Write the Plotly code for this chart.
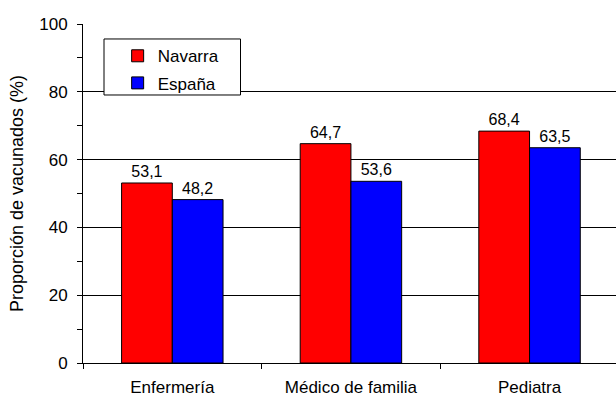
import plotly.graph_objects as go

categories = ["Enfermería", "Médico de familia", "Pediatra"]
navarra = [53.1, 64.7, 68.4]
espana = [48.2, 53.6, 63.5]
series_names = ["Navarra", "España"]
y_title = "Proporción de vacunados (%)"
y_ticks = [0, 20, 40, 60, 80, 100]

FONT = "Liberation Sans, Arial, sans-serif"

def fmt(v):
    return f"{v:.1f}".replace(".", ",")

fig = go.Figure()
for name, vals, col, grp in [(series_names[0], navarra, "#FF0000", "a"),
                             (series_names[1], espana, "#0000FF", "b")]:
    fig.add_trace(go.Bar(
        x=categories, y=vals, name=name, legendgroup=grp,
        marker=dict(color=col, line=dict(color="black", width=1)),
        text=[fmt(v) for v in vals], textposition="outside",
        textfont=dict(family=FONT, size=16, color="black"),
        cliponaxis=False,
    ))

# legend frame (paper coordinates)
fig.add_shape(type="rect", xref="paper", yref="paper",
              x0=0.0394, x1=0.2955, y0=0.7906, y1=0.9558,
              line=dict(color="black", width=1), fillcolor="white", layer="above")

fig.update_layout(
    width=616, height=400,
    margin=dict(l=83, r=0, t=24, b=37),
    paper_bgcolor="white", plot_bgcolor="white",
    barmode="group", bargap=0.432, bargroupgap=0,
    font=dict(family=FONT, size=16, color="black"),
    showlegend=True,
    legend=dict(
        x=0.065, y=0.958, xanchor="left", yanchor="top",
        bgcolor="rgba(0,0,0,0)", borderwidth=0,
        font=dict(family=FONT, size=17, color="black"),
        traceorder="grouped", tracegroupgap=2,
        itemwidth=30,
    ),
    xaxis=dict(
        type="category", range=[-0.5, 2.484], automargin=False,
        showline=True, linecolor="black", linewidth=1,
        ticks="outside", tickson="boundaries", ticklen=5, tickcolor="black",
        showgrid=False,
        tickfont=dict(family=FONT, size=17, color="black"),
        ticklabelstandoff=9,
    ),
    yaxis=dict(
        range=[0, 100], tickvals=y_ticks, automargin=False,
        showline=True, linecolor="black", linewidth=1,
        ticks="outside", ticklen=5, tickcolor="black",
        showgrid=True, gridcolor="black", gridwidth=1,
        zeroline=False,
        minor=dict(dtick=10, ticks="outside", ticklen=5, tickcolor="black", showgrid=False),
        tickfont=dict(family=FONT, size=17, color="black"),
        ticklabelstandoff=6,
        title=dict(text=y_title, font=dict(family=FONT, size=18, color="black"), standoff=10),
    ),
)

fig.write_html("out.html")
